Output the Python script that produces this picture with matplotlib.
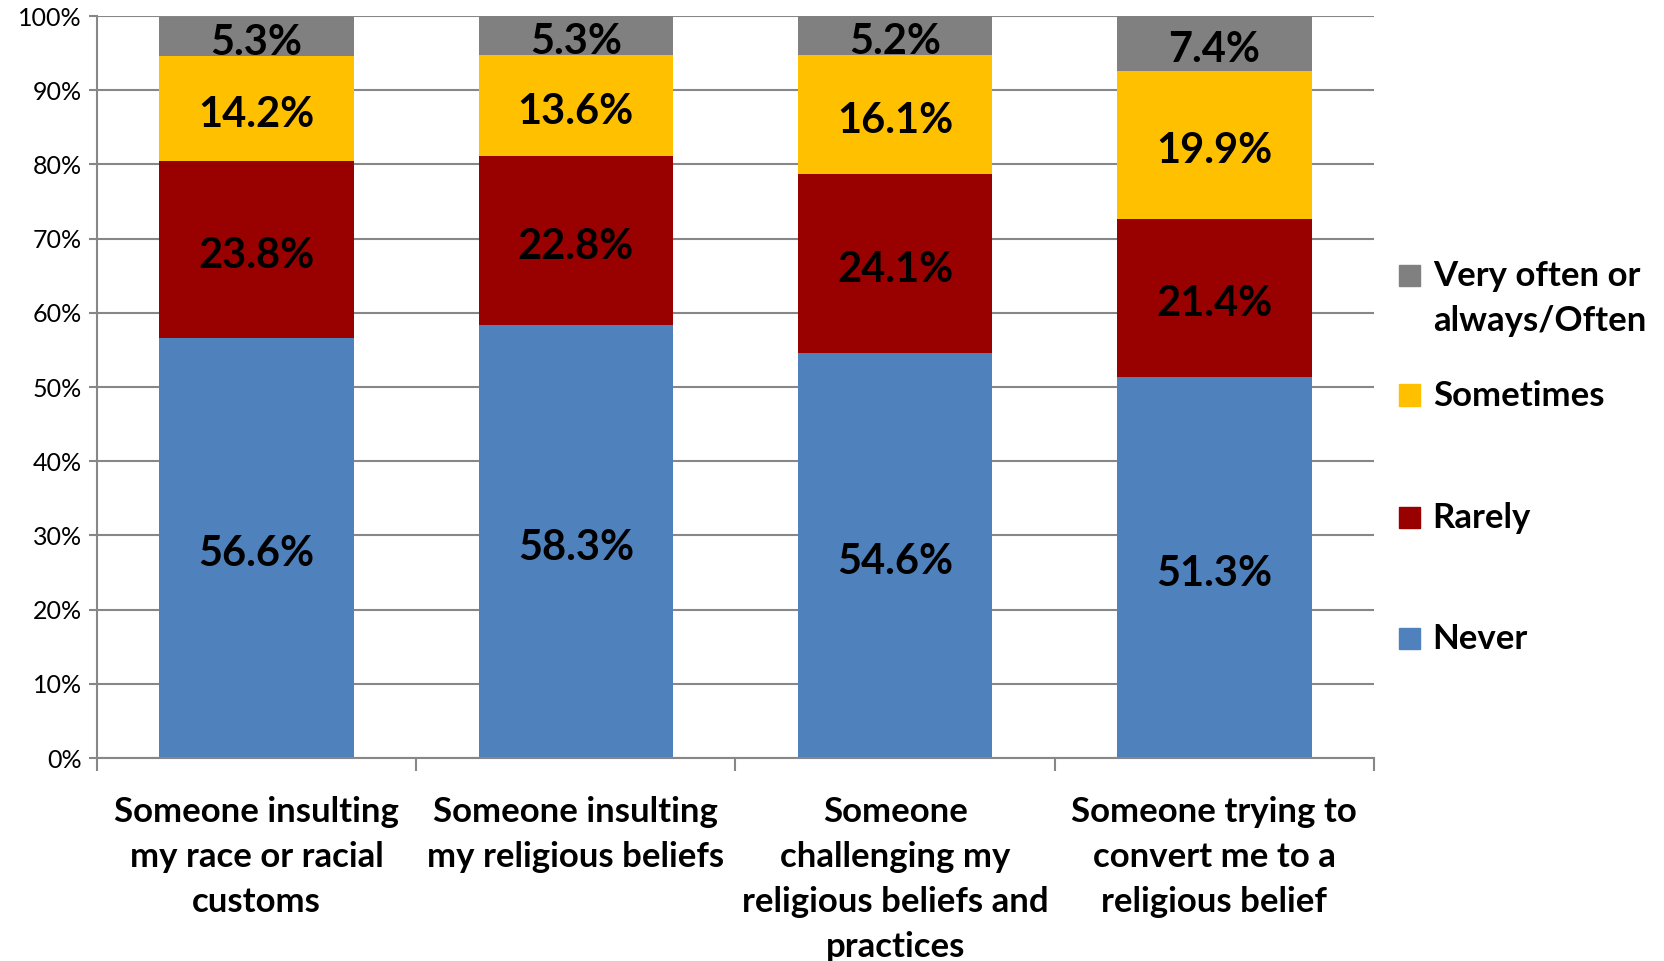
import matplotlib.pyplot as plt
import matplotlib as mpl
import numpy as np
from matplotlib.patches import Rectangle

mpl.rcParams.update({
    'font.family': ['Lato', 'DejaVu Sans'],
})

categories = [
    'Someone insulting\nmy race or racial\ncustoms',
    'Someone insulting\nmy religious beliefs',
    'Someone\nchallenging my\nreligious beliefs and\npractices',
    'Someone trying to\nconvert me to a\nreligious belief',
]
series_names = ['Never', 'Rarely', 'Sometimes', 'Very often or\nalways/Often']
never = [56.6, 58.3, 54.6, 51.3]
rarely = [23.8, 22.8, 24.1, 21.4]
sometimes = [14.2, 13.6, 16.1, 19.9]
often = [5.3, 5.3, 5.2, 7.4]
colors = ['#4F81BD', '#990000', '#FFC000', '#808080']

fig = plt.figure(figsize=(16.64, 9.61), dpi=100)
ax = fig.add_axes([0.0583, 0.2112, 0.7674, 0.7721])

x = np.arange(len(categories))
bottom = np.zeros(len(categories))
for vals, col in zip([never, rarely, sometimes, often], colors):
    vals = np.array(vals)
    ax.bar(x, vals, 0.61, bottom=bottom, color=col, zorder=2)
    for xi, b, v in zip(x, bottom, vals):
        ax.annotate(f'{v:.1f}%', xy=(xi, b + v / 2), xytext=(0, -4.5),
                    textcoords='offset points', ha='center', va='center',
                    fontsize=30, fontweight='bold', color='black', zorder=3)
    bottom += vals

ax.set_xlim(-0.5, len(categories) - 0.5)
ax.set_ylim(0, 100)
ax.set_yticks(np.arange(0, 101, 10))
ax.set_yticklabels([f'{v}%' for v in range(0, 101, 10)], fontsize=18)
ax.yaxis.grid(True, color='#878787', linewidth=1.5, zorder=0)
ax.set_axisbelow(True)

ax.set_xticks(x)
ax.set_xticklabels(categories, fontsize=25, fontweight='bold', linespacing=1.5)
ax.tick_params(axis='x', which='major', length=0, pad=27)
ax.set_xticks(np.arange(-0.5, len(categories), 1), minor=True)
ax.tick_params(axis='x', which='minor', length=9, width=1.5, color='#878787')
ax.tick_params(axis='y', length=6, width=1.5, color='#878787', pad=5)

for s in ['top', 'right']:
    ax.spines[s].set_visible(False)
for s in ['left', 'bottom']:
    ax.spines[s].set_color('#878787')
    ax.spines[s].set_linewidth(1.5)

# legend drawn manually (reversed order, top = Very often)
leg_y = [0.7138, 0.5890, 0.4620, 0.3361]
for name, col, yy in zip(series_names[::-1], colors[::-1], leg_y):
    fig.add_artist(Rectangle((0.8407, yy - 0.011), 0.0126, 0.0219,
                             transform=fig.transFigure, color=col))
    fig.text(0.861, yy + 0.0155, name, ha='left', va='top', fontsize=25,
             fontweight='bold', linespacing=1.5)

fig.savefig('out.png', dpi=100)
